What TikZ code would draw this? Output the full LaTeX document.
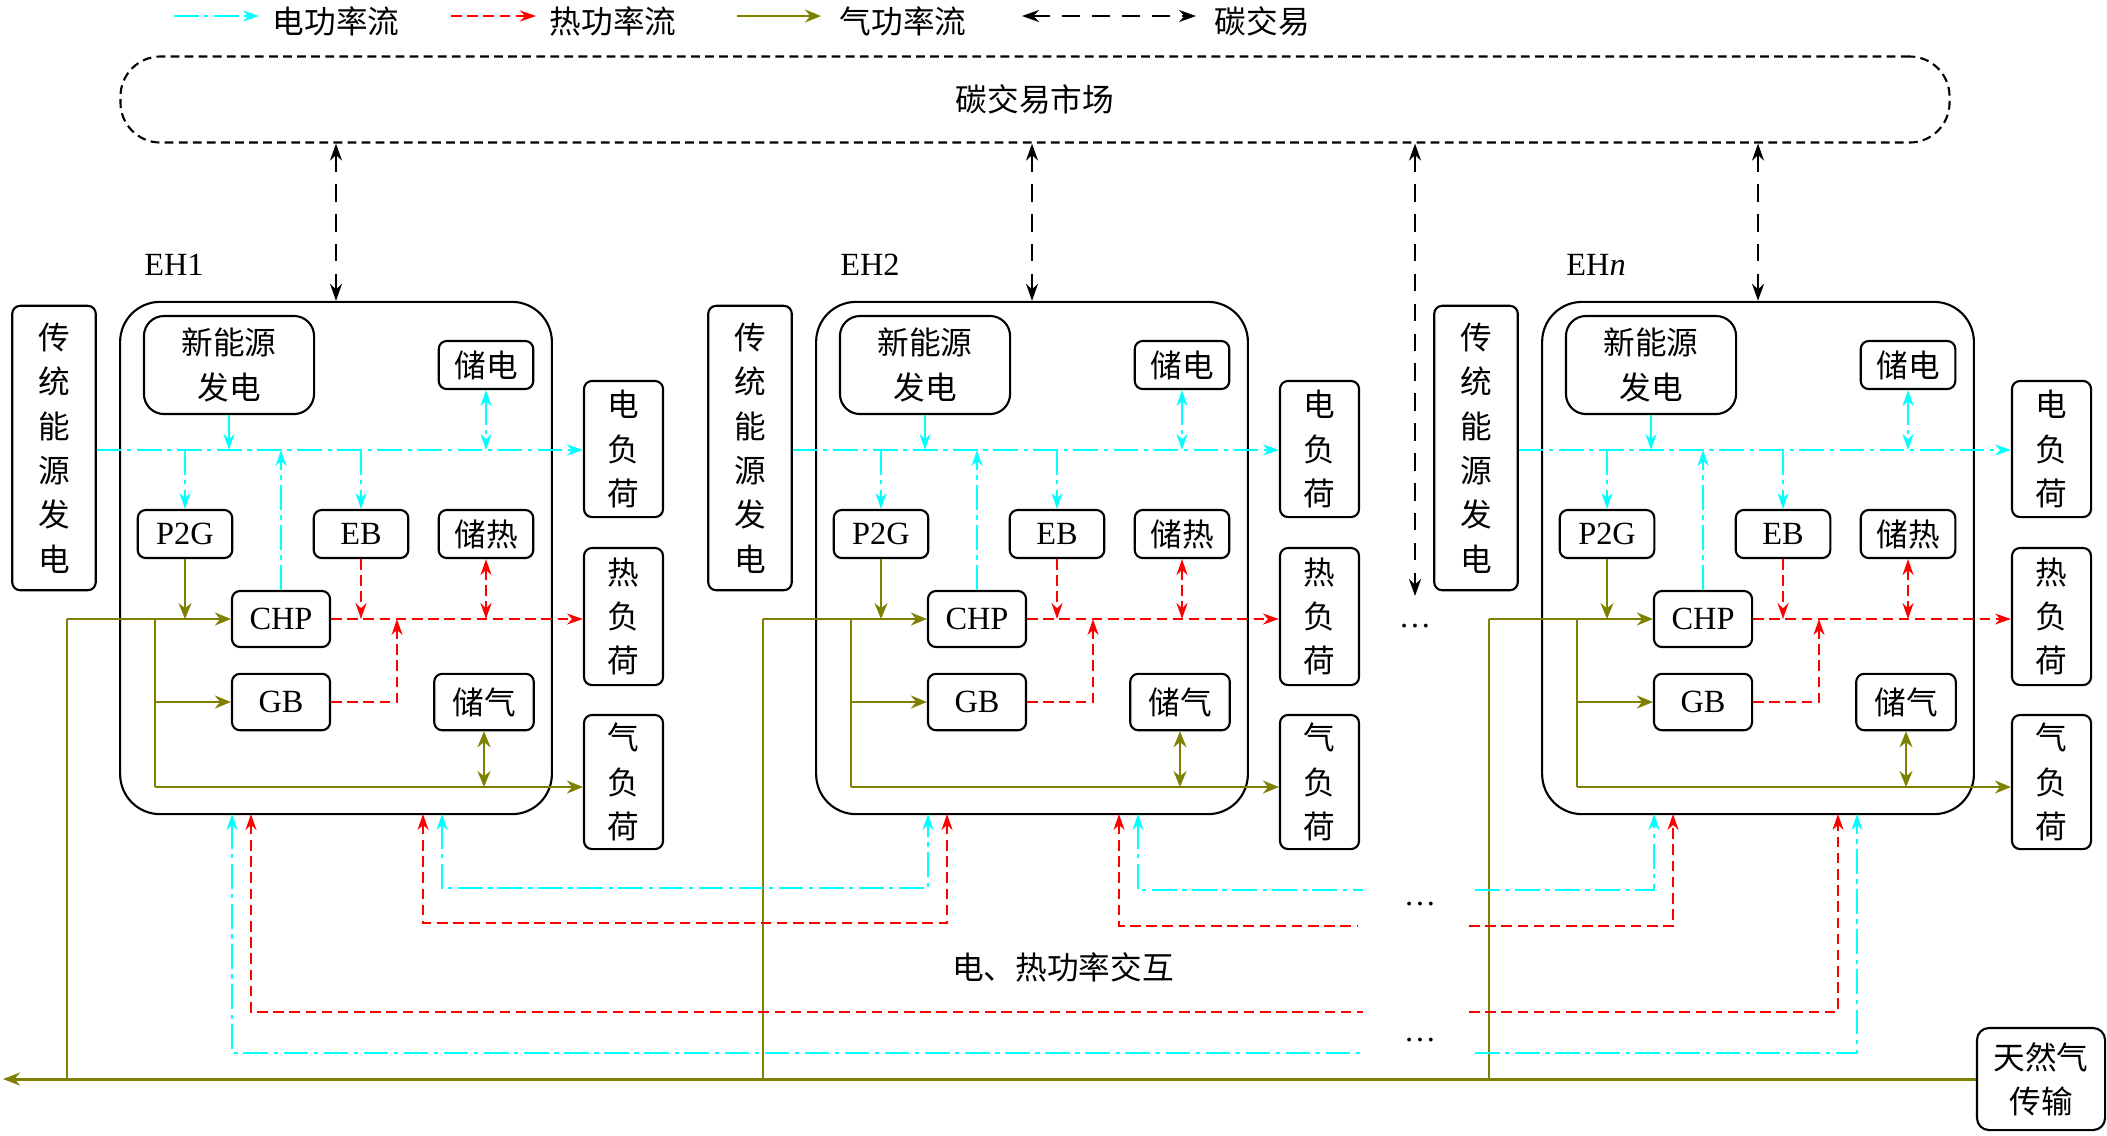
\documentclass[tikz,border=0pt]{standalone}
\usepackage{fontspec}
\setmainfont{Liberation Serif}
\newfontfamily\cjk{Noto Sans CJK SC}
\usetikzlibrary{arrows.meta,calc}
\definecolor{ecol}{RGB}{0,255,255}
\definecolor{hcol}{RGB}{255,0,0}
\definecolor{gcol}{RGB}{128,128,0}
\begin{document}
\begin{tikzpicture}[x=0.01cm,y=-0.01cm,
  cjkfont/.style={font=\cjk\fontsize{9}{12.6}\selectfont},
  box/.style={draw,line width=0.6pt,rounded corners=0.08cm,inner sep=0pt,align=center,cjkfont},
  lbox/.style={box,font=\fontsize{9.2}{11}\selectfont},
  ehbox/.style={draw,line width=0.6pt,rounded corners=0.4cm,minimum width=4.315cm,minimum height=5.12cm,inner sep=0pt},
  ele/.style={draw=ecol,line width=0.6pt,dash pattern=on 7pt off 1.6pt on 1.2pt off 1.6pt,>={Stealth[length=1.6mm,width=1.1mm]}},
  elesolid/.style={draw=ecol,line width=0.6pt,>={Stealth[length=1.6mm,width=1.1mm]}},
  heat/.style={draw=hcol,line width=0.6pt,dash pattern=on 3pt off 1.6pt,>={Stealth[length=1.6mm,width=1.1mm]}},
  gas/.style={draw=gcol,line width=0.6pt,>={Stealth[length=1.6mm,width=1.3mm]}},
  gasthin/.style={draw=gcol,line width=0.45pt},
  gasthick/.style={draw=gcol,line width=0.85pt,>={Stealth[length=1.7mm,width=1.3mm]}},
  carb/.style={draw=black,line width=0.6pt,dash pattern=on 5pt off 3.5pt,>={Stealth[length=1.7mm,width=1.2mm]}},
]
\fill[white] (0,0) rectangle (2107,1135);
\useasboundingbox (0,0) rectangle (2107,1135);

% legend
\coordinate (l1s) at (174,16); \coordinate (l1e) at (259,16);
\coordinate (l2s) at (451,16); \coordinate (l2e) at (536,16);
\coordinate (l3s) at (737,16); \coordinate (l3e) at (821,16);
\coordinate (l4s) at (1022,16); \coordinate (l4e) at (1196,16);
\node[cjkfont,anchor=west,inner sep=0pt] (lt1) at (272,21) {电功率流};
\node[cjkfont,anchor=west,inner sep=0pt] (lt2) at (549,21) {热功率流};
\node[cjkfont,anchor=west,inner sep=0pt] (lt3) at (839,21) {气功率流};
\node[cjkfont,anchor=west,inner sep=0pt] (lt4) at (1214,21) {碳交易};
\draw[ele,->] (l1s) -- (l1e);
\draw[heat,->] (l2s) -- (l2e);
\draw[gas,->] (l3s) -- (l3e);
\draw[carb,<->] (l4s) -- (l4e);

% carbon market
\node[draw,line width=0.6pt,dash pattern=on 2.5pt off 1.5pt,rounded corners=0.4cm,
  minimum width=18.28cm,minimum height=0.86cm,inner sep=0pt,cjkfont] (mkt) at (1035,99.5) {碳交易市场};

% natural gas transmission
\node[box,rounded corners=0.12cm,minimum width=1.28cm,minimum height=1.02cm] (ng) at (2041,1079) {天然气\\传输};
\coordinate (gend) at (3,1079);
\draw[gasthick,->] (ng.west) -- (ng.west -| gend);

\foreach \P/\dx/\lab/\ldx/\pdx in {A/0/EH1/0/0, B/696/EH2/0/0, C/1422/{EH\textit{n}}/6/-7}{
\begin{scope}[shift={(\dx,0)}]
  \node[ehbox] (\P-box) at (336,558) {};
  \node[font=\fontsize{9.2}{11}\selectfont,inner sep=0pt] (\P-lab) at (174,265) {\lab};
  \node[box,minimum width=0.835cm,minimum height=2.843cm] (\P-trad) at (54,448) {传\\统\\能\\源\\发\\电};
  \node[box,rounded corners=0.2cm,minimum width=1.70cm,minimum height=0.98cm] (\P-new) at (229,365) {新能源\\发电};
  \node[box,minimum width=0.945cm,minimum height=0.48cm] (\P-sd) at (486,365) {储电};
  \node[box,minimum width=0.945cm,minimum height=0.48cm] (\P-sr) at (486,534) {储热};
  \node[box,minimum width=0.995cm,minimum height=0.564cm] (\P-sq) at (484,702) {储气};
  \node[lbox,minimum width=0.945cm,minimum height=0.48cm] (\P-p2g) at (185,534) {P2G};
  \node[lbox,minimum width=0.945cm,minimum height=0.48cm] (\P-eb) at (361,534) {EB};
  \node[lbox,minimum width=0.98cm,minimum height=0.56cm] (\P-chp) at (281,619) {CHP};
  \node[lbox,minimum width=0.98cm,minimum height=0.564cm] (\P-gb) at (281,702) {GB};
  \node[box,minimum width=0.79cm,minimum height=1.36cm] (\P-ld) at (623.5+\ldx,449) {电\\负\\荷};
  \node[box,minimum width=0.79cm,minimum height=1.37cm] (\P-lh) at (623.5+\ldx,616.5) {热\\负\\荷};
  \node[box,minimum width=0.79cm,minimum height=1.34cm] (\P-lg) at (623.5+\ldx,782) {气\\负\\荷};
  \coordinate (\P-bus) at (0,450);
  \coordinate (\P-gtap) at (67,1079);
  \coordinate (\P-gsp) at (155,619);
  \coordinate (\P-gbt) at (155,787);
  \coordinate (\P-gbh) at (397,619);
  \coordinate (\P-bc1) at (232,814);
  \coordinate (\P-br1) at (251,814);
  \coordinate (\P-br2) at (423+\pdx,814);
  \coordinate (\P-bc2) at (442+\pdx,814);
  % electricity
  \draw[ele,->] (\P-trad.east |- \P-bus) -- (\P-ld.west |- \P-bus);
  \draw[ele,->] (\P-p2g.north |- \P-bus) -- (\P-p2g.north);
  \draw[ele,->] (\P-chp.north) -- (\P-chp.north |- \P-bus);
  \draw[ele,->] (\P-eb.north |- \P-bus) -- (\P-eb.north);
  \draw[ele,<->] (\P-sd.south) -- (\P-sd.south |- \P-bus);
  % heat
  \draw[heat,->] (\P-chp.east) -- (\P-chp.east -| \P-lh.west);
  \draw[heat,->] (\P-eb.south) -- (\P-eb.south |- \P-chp.east);
  \draw[heat,<->] (\P-sr.south) -- (\P-sr.south |- \P-chp.east);
  \draw[heat,->] (\P-gb.east) -| (\P-gbh);
  % gas
  \draw[gasthin] (\P-gtap) -- (\P-gtap |- \P-chp.west);
  \draw[gas,->] (\P-gtap |- \P-chp.west) -- (\P-chp.west);
  \draw[gas] (\P-gsp) -- (\P-gbt);
  \draw[gas,->] (\P-gsp |- \P-gb.west) -- (\P-gb.west);
  \draw[gas,->] (\P-gbt) -- (\P-gbt -| \P-lg.west);
  \draw[gas,->] (\P-p2g.south) -- (\P-p2g.south |- \P-chp.west);
  \draw[gas,<->] (\P-sq.south) -- (\P-sq.south |- \P-gbt);
  % carbon
  \draw[carb,<->] (\P-box.north |- mkt.south) -- (\P-box.north);
\end{scope}
}

% new energy -> bus
\draw[elesolid,->] (A-new.south) -- (A-new.south |- A-bus);
\draw[elesolid,->] (B-new.south) -- (B-new.south |- B-bus);
\draw[ele,->] (C-new.south) -- (C-new.south |- C-bus);

% middle carbon arrow and dots
\coordinate (cmid) at (1415,596);
\draw[carb,<->] (cmid |- mkt.south) -- (cmid);
\node[inner sep=0pt,font=\fontsize{9.2}{11}\selectfont] (dots1) at (1415,626) {…};

% interactions
\draw[ele,<->] (A-bc2) -- ++(0,74) -| (B-bc1);
\draw[heat,<->] (A-br2) -- ++(0,109) -| (B-br1);
\coordinate (c2L) at (1363,890); \coordinate (c2R) at (1475,890);
\coordinate (r2L) at (1357,926); \coordinate (r2R) at (1469,926);
\coordinate (r3L) at (1363,1012); \coordinate (r3R) at (1469,1012);
\coordinate (c3L) at (1363,1053); \coordinate (c3R) at (1475,1053);
\draw[ele,<-] (B-bc2) |- (c2L);
\draw[ele,->] (c2R) -| (C-bc1);
\draw[heat,<-] (B-br2) |- (r2L);
\draw[heat,->] (r2R) -| (C-br1);
\draw[heat,<-] (A-br1) |- (r3L);
\draw[heat,->] (r3R) -| (C-br2);
\draw[ele,<-] (A-bc1) |- (c3L);
\draw[ele,->] (c3R) -| (C-bc2);
\node[inner sep=0pt,font=\fontsize{9.2}{11}\selectfont] (dots2) at (1420,904) {…};
\node[inner sep=0pt,font=\fontsize{9.2}{11}\selectfont] (dots3) at (1420,1040) {…};
\node[cjkfont,inner sep=0pt] (inter) at (1063,967) {电、热功率交互};
\end{tikzpicture}
\end{document}
